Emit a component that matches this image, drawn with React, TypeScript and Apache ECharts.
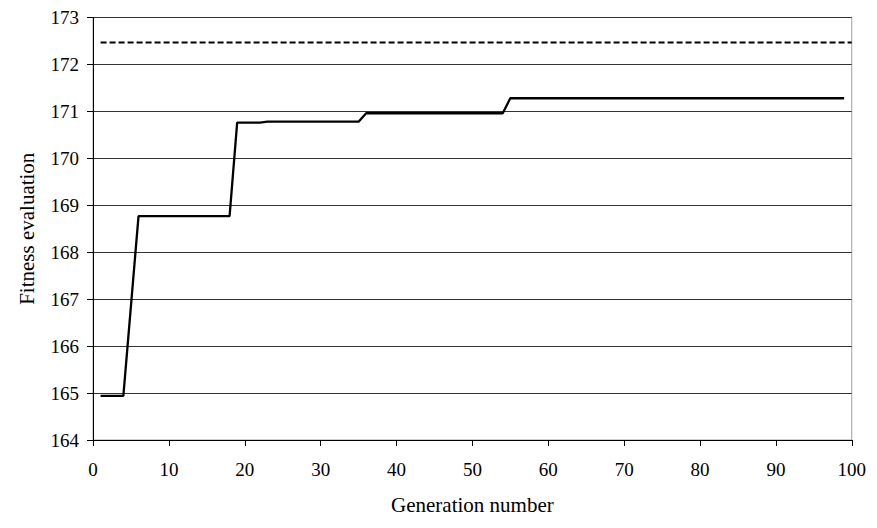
import React, { useEffect, useRef } from "react";
import * as echarts from "echarts";

const bestGenerations = [1, 4, 6, 18, 19, 22, 23, 35, 36, 54, 55, 99];
const bestFitness = [164.94, 164.94, 168.77, 168.77, 170.76, 170.76, 170.78, 170.78, 170.96, 170.96, 171.28, 171.28];
const optimumGenerations = [1, 100];
const optimumFitness = [172.47, 172.47];
const xTicks = [0, 10, 20, 30, 40, 50, 60, 70, 80, 90, 100];
const yTicks = [164, 165, 166, 167, 168, 169, 170, 171, 172, 173];

const FONT = "'Liberation Serif', 'Times New Roman', serif";

export default function App() {
  const ref = useRef<HTMLDivElement>(null);
  useEffect(() => {
    if (!ref.current) return;
    const chart = echarts.init(ref.current, undefined, { renderer: "svg" });
    chart.setOption({
      animation: false,
      backgroundColor: "#ffffff",
      grid: {
        left: 78,
        right: 8,
        top: 7,
        bottom: 71,
        show: true,
        borderColor: "#a0a0a0",
        borderWidth: 1,
        containLabel: false,
      },
      xAxis: {
        type: "value",
        min: xTicks[0],
        max: xTicks[xTicks.length - 1],
        interval: 10,
        name: "Generation number",
        nameLocation: "middle",
        nameGap: 54,
        nameTextStyle: { fontFamily: FONT, fontSize: 21, color: "#000" },
        axisLine: { show: true, lineStyle: { color: "#000", width: 1 } },
        axisTick: { show: true, inside: false, length: 6, lineStyle: { color: "#000" } },
        axisLabel: { fontFamily: FONT, fontSize: 19, color: "#000", margin: 20 },
        splitLine: { show: false },
      },
      yAxis: {
        type: "value",
        min: yTicks[0],
        max: yTicks[yTicks.length - 1],
        interval: 1,
        name: "Fitness evaluation",
        nameLocation: "middle",
        nameGap: 56,
        nameRotate: 90,
        nameTextStyle: { fontFamily: FONT, fontSize: 21, color: "#000" },
        axisLine: { show: true, lineStyle: { color: "#000", width: 1 } },
        axisTick: { show: true, inside: false, length: 6, lineStyle: { color: "#000" } },
        axisLabel: { fontFamily: FONT, fontSize: 19, color: "#000", margin: 14 },
        splitLine: { show: true, lineStyle: { color: "#333", width: 1 } },
      },
      series: [
        {
          type: "line",
          name: "Optimum",
          data: optimumGenerations.map((g, i) => [g, optimumFitness[i]]),
          showSymbol: false,
          symbol: "none",
          lineStyle: { color: "#000", width: 2, type: [6, 3] },
        },
        {
          type: "line",
          name: "Best",
          data: bestGenerations.map((g, i) => [g, bestFitness[i]]),
          showSymbol: false,
          symbol: "none",
          lineStyle: { color: "#000", width: 2.3 },
        },
      ],
    });
    return () => chart.dispose();
  }, []);
  return <div ref={ref} style={{ width: 861, height: 512 }} />;
}
